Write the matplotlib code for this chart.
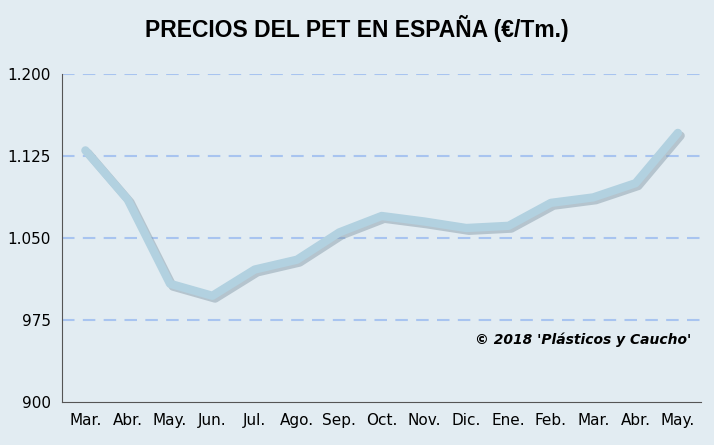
import matplotlib
matplotlib.use("Agg")
import matplotlib.pyplot as plt
import matplotlib.patheffects as pe

months = ["Mar.", "Abr.", "May.", "Jun.", "Jul.", "Ago.", "Sep.", "Oct.",
          "Nov.", "Dic.", "Ene.", "Feb.", "Mar.", "Abr.", "May."]
prices = [1130, 1085, 1008, 997, 1021, 1030, 1055, 1070,
          1065, 1059, 1061, 1082, 1087, 1100, 1146]
yticks = [900, 975, 1050, 1125, 1200]
ylabels = ["900", "975", "1.050", "1.125", "1.200"]

fig = plt.figure(figsize=(7.14, 4.45), dpi=100)
fig.patch.set_facecolor("#e2ecf2")
ax = fig.add_axes([0.087, 0.097, 0.895, 0.737])
ax.set_facecolor("#e2ecf2")

x = list(range(len(months)))
ax.plot(x, prices, color="#b2d1e0", lw=6, solid_capstyle="round",
        path_effects=[pe.SimpleLineShadow(offset=(2, -2), shadow_color="#7f95a3", alpha=0.45),
                      pe.Normal()], zorder=3)

ax.set_ylim(900, 1200)
ax.set_xlim(-0.55, len(months) - 0.45)
ax.set_yticks(yticks)
ax.set_yticklabels(ylabels, fontsize=11)
ax.set_xticks(x)
ax.set_xticklabels(months, fontsize=11)
ax.tick_params(length=0, pad=8)
for yv in yticks[1:]:
    ax.axhline(yv, color="#a8c4f0", lw=1.5, ls=(0, (6, 4)), zorder=1)
for s in ["top", "right"]:
    ax.spines[s].set_visible(False)
ax.spines["left"].set_color("#555555")
ax.spines["bottom"].set_color("#555555")

ax.text(0.985, 0.19, "© 2018 'Plásticos y Caucho'", transform=ax.transAxes,
        ha="right", va="center", fontsize=10, fontstyle="italic", fontweight="bold")
fig.text(0.5, 0.935, "PRECIOS DEL PET EN ESPAÑA (€/Tm.)", ha="center", va="center",
         fontsize=16.5, fontweight="bold", family="Liberation Sans")

fig.savefig("out.png", dpi=100, facecolor=fig.get_facecolor())
